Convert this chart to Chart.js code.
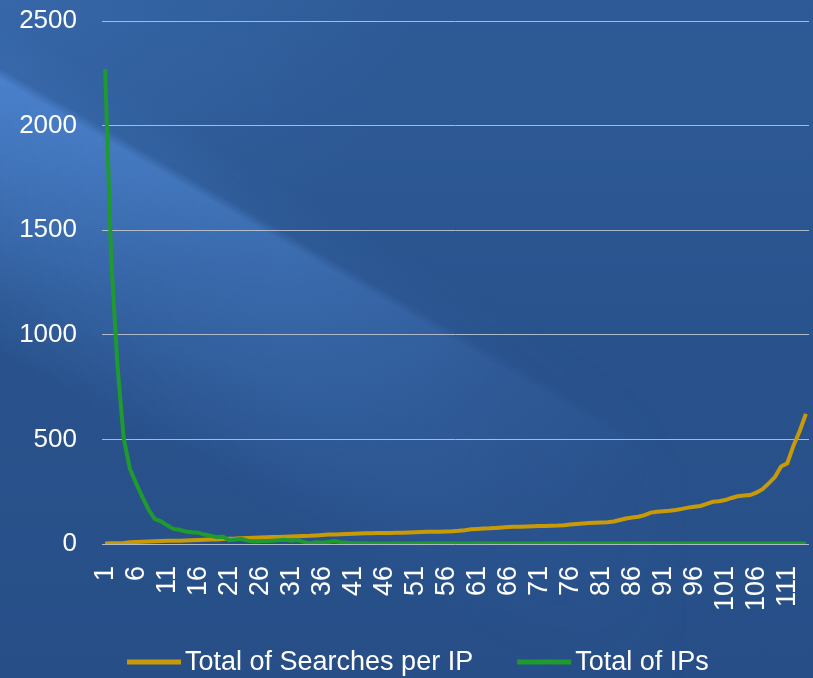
<!DOCTYPE html>
<html>
<head>
<meta charset="utf-8">
<script src="https://cdn.jsdelivr.net/npm/chart.js@4.4.1/dist/chart.umd.min.js"></script>
<style>
  html, body { margin: 0; padding: 0; }
  body {
    width: 813px; height: 678px; overflow: hidden; position: relative;
    background:
      radial-gradient(ellipse 420px 300px at 0 0, rgba(70,125,200,0.35), rgba(70,125,200,0)),
      linear-gradient(180deg, #2e5b97 0%, #29528c 55%, #274e87 100%);
    font-family: "Liberation Sans", Arial, sans-serif;
  }
  .glow {
    position: absolute; left: 0; top: 0; width: 813px; height: 678px;
    background:
      linear-gradient(30deg, rgba(85,145,225,0) 28%, rgba(85,145,225,0.3) 39%, rgba(90,150,232,0.48) 48%, rgba(90,150,232,0.58) 52.2%, rgba(85,145,225,0.12) 53.2%, rgba(85,145,225,0) 58%);
    -webkit-mask-image: linear-gradient(90deg, #000 0%, rgba(0,0,0,0.65) 35%, rgba(0,0,0,0.2) 62%, rgba(0,0,0,0) 85%);
    mask-image: linear-gradient(90deg, #000 0%, rgba(0,0,0,0.65) 35%, rgba(0,0,0,0.2) 62%, rgba(0,0,0,0) 85%);
  }
  .chart-box { position: absolute; left: 0; top: 0; width: 813px; height: 678px; }
</style>
</head>
<body>
<div class="glow"></div>
<div class="chart-box"><canvas id="chart"></canvas></div>
<script>
  // categories 1..114
  const categories = [
    '1','2','3','4','5','6','7','8','9','10',
    '11','12','13','14','15','16','17','18','19','20',
    '21','22','23','24','25','26','27','28','29','30',
    '31','32','33','34','35','36','37','38','39','40',
    '41','42','43','44','45','46','47','48','49','50',
    '51','52','53','54','55','56','57','58','59','60',
    '61','62','63','64','65','66','67','68','69','70',
    '71','72','73','74','75','76','77','78','79','80',
    '81','82','83','84','85','86','87','88','89','90',
    '91','92','93','94','95','96','97','98','99','100',
    '101','102','103','104','105','106','107','108','109','110',
    '111','112','113','114'
  ];

  const searchesPerIp = [
    2, 3, 4, 5, 8, 10, 11, 12, 13, 14,
    15, 16, 16, 17, 18, 19, 20, 21, 22, 24,
    25, 26, 28, 29, 30, 31, 32, 33, 34, 35,
    36, 37, 38, 39, 41, 43, 45, 46, 47, 48,
    49, 50, 51, 51, 52, 53, 53, 54, 54, 55,
    56, 57, 58, 58, 59, 60, 61, 63, 66, 70,
    72, 74, 75, 77, 79, 81, 82, 83, 84, 85,
    86, 86, 87, 88, 90, 93, 96, 98, 100, 102,
    103, 104, 108, 115, 122, 127, 130, 138, 150, 154,
    157, 159, 163, 168, 174, 178, 182, 192, 202, 204,
    210, 220, 228, 232, 234, 245, 262, 290, 320, 370,
    386, 470, 540, 622
  ];

  const totalIps = [
    2270, 1350, 850, 505, 360, 290, 225, 165, 120, 108,
    90, 72, 68, 60, 56, 54, 45, 40, 32, 35,
    18, 22, 24, 16, 12, 14, 14, 16, 18, 20,
    16, 19, 10, 3, 8, 6, 10, 14, 8, 6,
    4, 3, 3, 2, 2, 2, 2, 2, 2, 2,
    2, 2, 2, 2, 2, 2, 2, 2, 2, 2,
    2, 2, 2, 2, 2, 2, 2, 2, 2, 2,
    2, 2, 2, 2, 2, 2, 2, 2, 2, 2,
    2, 2, 2, 2, 2, 2, 2, 2, 2, 2,
    2, 2, 2, 2, 2, 2, 2, 2, 2, 2,
    2, 2, 2, 2, 2, 2, 2, 2, 2, 2,
    2, 2, 2, 2
  ];

  const yTicks = [0, 500, 1000, 1500, 2000, 2500];

  const FONT = '"Liberation Sans", Arial, sans-serif';

  // legend drawn under the axis, like the original slide
  const bottomLegend = {
    id: 'bottomLegend',
    afterDraw(chart) {
      const ctx = chart.ctx;
      const items = chart.data.datasets;
      ctx.save();
      ctx.font = '27px ' + FONT;
      ctx.textBaseline = 'middle';
      const lineLen = 54, gapText = 4, gapItem = 44;
      let x = 127;
      const y = 662;
      items.forEach(d => {
        ctx.fillStyle = d.borderColor;
        ctx.fillRect(x, y - 2.5, lineLen, 5);
        x += lineLen + gapText;
        ctx.fillStyle = '#ffffff';
        ctx.fillText(d.label, x, y + 1);
        x += ctx.measureText(d.label).width + gapItem;
      });
      ctx.restore();
    }
  };

  new Chart(document.getElementById('chart'), {
    type: 'line',
    data: {
      labels: categories,
      datasets: [
        {
          label: 'Total of Searches per IP',
          data: searchesPerIp,
          borderColor: '#c99a08',
          borderWidth: 4,
          pointRadius: 0,
          tension: 0,
          order: 1
        },
        {
          label: 'Total of IPs',
          data: totalIps,
          borderColor: '#1f9a2e',
          borderWidth: 4,
          pointRadius: 0,
          tension: 0,
          order: 0
        }
      ]
    },
    options: {
      responsive: true,
      maintainAspectRatio: false,
      animation: false,
      layout: { padding: { top: 21, right: 4, bottom: 0, left: 0 } },
      plugins: {
        legend: { display: false },
        tooltip: { enabled: false }
      },
      scales: {
        x: {
          offset: true,
          grid: { display: false, drawTicks: false },
          border: { display: false },
          afterFit: s => { s.height = 134; s.paddingLeft = 0; s.paddingRight = 0; },
          ticks: {
            color: '#ffffff',
            font: { family: FONT, size: 27 },
            autoSkip: false,
            maxRotation: 90,
            minRotation: 90,
            padding: 22,
            callback: function (v, i) { return i % 5 === 0 ? categories[i] : null; }
          }
        },
        y: {
          min: 0,
          max: 2500,
          afterFit: s => { s.width = 102; s.paddingTop = 0; s.paddingBottom = 0; },
          afterBuildTicks: s => { s.ticks = yTicks.map(v => ({ value: v })); },
          grid: { color: 'rgba(196,202,212,0.85)', lineWidth: 1, drawTicks: false },
          border: { display: false },
          ticks: {
            color: '#ffffff',
            font: { family: FONT, size: 26 },
            padding: 25,
            callback: v => String(v)
          }
        }
      }
    },
    plugins: [bottomLegend]
  });
</script>
</body>
</html>
